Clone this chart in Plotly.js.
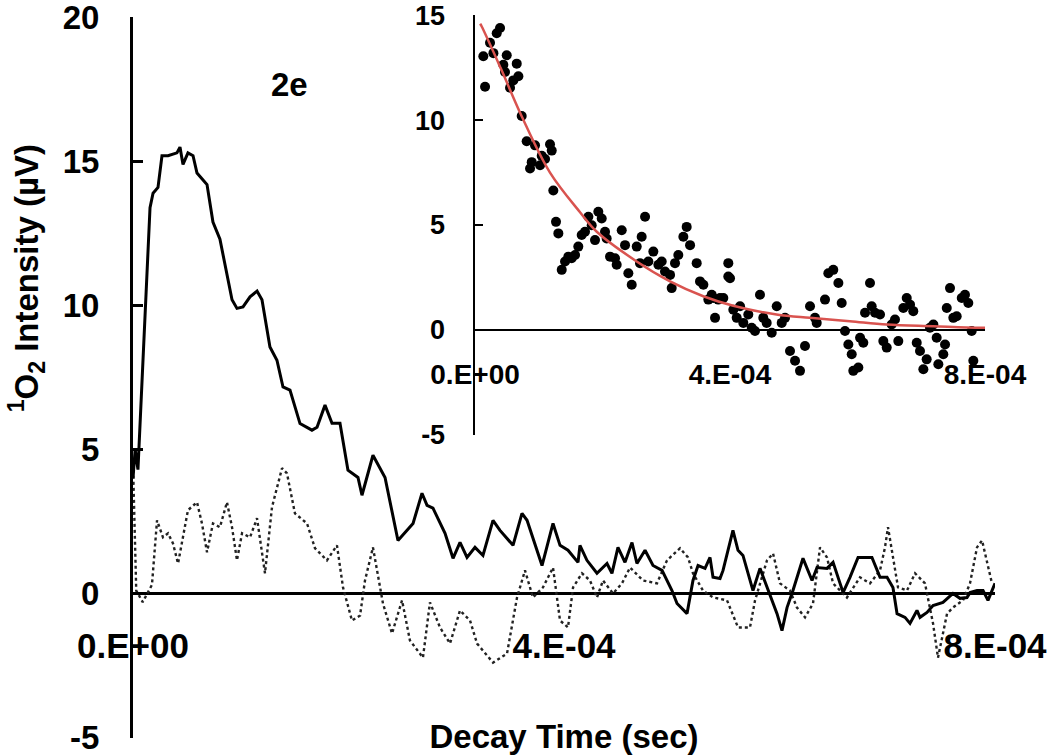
<!DOCTYPE html>
<html>
<head>
<meta charset="utf-8">
<script src="https://cdn.plot.ly/plotly-3.0.1.min.js"></script>
<style>html,body{margin:0;padding:0;background:#fff;}#chart{width:1050px;height:755px;}</style>
</head>
<body>
<div id="chart"></div>
<script>
// ---- data (time in microseconds, intensity in microvolts) ----
const solidPoints = [[0,4.0],[2,5.0],[4.6,4.3],[15.8,13.4],[18.6,13.9],[23.2,14.1],[26.9,15.2],[32.5,15.2],[40.8,15.3],[43.6,15.5],[46.4,14.9],[51.0,15.3],[55.7,15.2],[59.4,14.6],[64.0,14.4],[68.7,14.2],[74.2,12.9],[80.7,12.3],[91.9,10.2],[96.5,9.9],[102.1,9.95],[108.6,10.3],[115.1,10.5],[119.7,10.2],[127.1,8.56],[133.6,8.1],[139.2,7.17],[145.7,7.06],[155.0,5.9],[166.1,5.67],[170.8,5.77],[178.2,6.54],[184.7,5.91],[192.1,5.91],[199.5,4.28],[208.8,4.03],[212.5,3.41],[222.7,4.8],[233.9,4.03],[245.9,1.84],[259.9,2.43],[268.2,3.48],[272.9,3.06],[278.4,2.96],[289.6,2.09],[297.0,1.22],[303.5,1.77],[310.0,1.25],[317.4,1.6],[324.8,1.32],[334.1,2.54],[340.6,2.19],[352.7,1.67],[361.0,2.78],[365.7,2.54],[379.6,0.97],[389.8,2.43],[396.3,1.67],[403.7,1.5],[413.0,1.08],[414.8,1.67],[421.3,1.15],[430.6,0.7],[439.9,1.04],[444.5,0.7],[450.1,1.6],[456.6,1.08],[463.1,1.77],[467.7,1.04],[475.2,1.5],[482.6,0.97],[491.0,0.8],[500.2,0.1],[504.9,-0.35],[514.2,-0.7],[519.7,0.45],[524.4,0.97],[530.9,0.87],[535.5,1.25],[538.3,0.56],[544.8,0.52],[547.6,0.8],[556.8,2.19],[561.5,1.5],[566.1,1.32],[575.4,0.1],[581.9,0.87],[588.4,0.21],[597.7,-0.7],[602.3,-1.29],[607.0,-0.49],[612.5,0.1],[621.8,1.22],[630.2,0.45],[634.8,0.9],[644.1,0.87],[649.7,1.08],[656.2,0.35],[659.0,0.03],[665.4,0.56],[672.9,1.25],[685.8,1.25],[693.3,0.56],[699.8,0.56],[705.3,0.21],[709.1,-0.7],[716.5,-0.83],[721.1,-1.04],[727.6,-0.59],[730.4,-0.83],[736.9,-0.66],[742.5,-0.42],[751.7,-0.31],[761.0,0],[767.5,-0.17],[774.0,-0.14],[776.8,0.03],[783.3,0.1],[788.9,0.1],[793.5,-0.24],[797.2,0.1],[800.0,0.35]];

const dottedPoints = [[0,4.5],[3,0.1],[9,-0.3],[17.6,0.3],[22.3,2.54],[27.8,1.95],[32.5,2.09],[37.1,1.74],[41.8,1.04],[46.4,1.95],[51,2.89],[59.4,3.17],[64,2.43],[68.7,1.43],[74.2,2.43],[80.7,2.3],[87.2,3.17],[91.9,2.3],[96.5,1.15],[101.2,2.09],[108.6,1.95],[115.1,2.61],[119.7,1.5],[122.5,0.7],[129,3.0],[138.3,4.35],[142.9,4.17],[150.3,2.78],[161.5,2.43],[168.9,1.57],[180,1.15],[189.3,1.67],[194.9,0.21],[203.2,-0.94],[210.7,-0.77],[215.3,0.45],[222.7,1.6],[229.2,0.21],[232,-0.35],[240.4,-1.39],[249.7,-0.24],[257,-1.63],[269.1,-2.23],[275.6,-0.31],[284.9,-1.18],[294.2,-1.74],[303.5,-0.59],[312.8,-0.94],[319.3,-1.74],[334.1,-2.4],[347.1,-2.09],[356.4,-0.14],[363.8,0.8],[371.2,-0.14],[380.5,0.21],[389.8,0.9],[396.3,-0.94],[403.7,-1.18],[408.4,0.21],[416.7,0.7],[424.1,0.45],[430.6,-0.14],[436.2,0.45],[445.5,0],[453.8,0.35],[461.3,0.9],[473.3,0.45],[486.3,0.35],[495.6,1.15],[507.7,1.57],[515.1,1.25],[519.7,0.7],[529,0.1],[538.3,-0.14],[551.3,-0.24],[561.5,-1.18],[572.6,-1.18],[577.3,-0.24],[588.4,1.15],[594,1.39],[600.5,0.35],[609.7,0.1],[616.2,-0.49],[623.7,-0.83],[631.1,-0.35],[637.6,1.6],[644.1,1.25],[649.7,0.35],[662.6,-0.14],[674.7,0.56],[684,0.35],[693.3,0.8],[697.9,1.6],[700.7,2.3],[705.3,1.25],[710,0.21],[718.3,0.1],[725.8,0.7],[735,0.35],[742.5,-1.04],[747.1,-2.23],[755.5,-0.7],[761,-0.49],[770.3,-0.24],[776.8,0.35],[783.3,1.6],[788,1.84],[792.6,1.04],[797.2,0.35]];

const insetDots = [[13,13.05],[15.7,11.6],[23.5,13.7],[28.8,13.2],[34,14.15],[39.2,14.4],[44.4,12.65],[49.7,13.1],[47,12.3],[54.9,11.55],[60,11.9],[65.4,12.7],[68,12.1],[73.2,10.2],[81,9.0],[86.3,7.7],[88.9,8.0],[94.1,8.8],[102,7.85],[104.6,8.3],[109.8,8.15],[117.6,8.85],[120.3,8.55],[122.8,6.65],[127,5.15],[130.7,4.6],[136,2.86],[141.2,3.26],[146.4,3.49],[151.6,3.41],[156.9,3.57],[162,3.97],[167.3,4.52],[172.5,4.68],[177.8,5.39],[183,4.99],[188.2,4.28],[193.4,5.63],[198.7,5.31],[203.9,4.68],[206.5,4.36],[211.8,3.49],[219.6,3.41],[222.2,3.1],[230.1,4.75],[235.3,4.04],[240.5,2.7],[245.8,2.15],[253.6,3.97],[258.8,3.18],[261.4,4.44],[266.7,5.39],[271.9,3.26],[279.7,3.73],[287.6,3.1],[292.8,3.26],[298,2.78],[305.9,2.62],[308.5,1.99],[313.7,3.18],[318.9,3.57],[326.8,4.44],[332,4.91],[337.3,4.04],[347.7,3.18],[352.9,2.31],[358.2,2.15],[366,1.44],[371.3,1.67],[376.5,0.57],[381.6,1.44],[389.5,1.52],[397.3,3.18],[397.3,2.54],[405.2,0.96],[373.8,1.52],[384.3,1.52],[400,2.46],[410.5,0.57],[415.7,1.12],[420.9,0.33],[428.7,0.73],[434,0.1],[439.2,-0.06],[447,1.67],[452.2,0.57],[457.5,0.33],[465.4,-0.14],[473.3,1.12],[481.1,0.33],[486.3,0.57],[494.1,-1.01],[502,-1.48],[509.8,-1.96],[517.6,-0.77],[525.5,1.12],[533.3,0.57],[536,0.33],[549,1.44],[554.2,2.7],[562,2.86],[570,2.23],[575.2,1.28],[580.4,-0.06],[585.6,-0.7],[590.9,-1.17],[593.4,-1.96],[601.3,-1.8],[604,-0.38],[609.1,-0.62],[611.8,0.81],[619.6,2.23],[622.2,1.12],[627.5,0.81],[635.3,0.73],[640.5,-0.54],[645.8,-0.85],[653.6,0.25],[658.8,0.49],[664,-0.54],[671.9,1.04],[677.2,1.52],[682.4,1.2],[687.5,0.89],[692.9,-0.62],[698,-1.01],[703.3,-1.88],[708.5,-1.41],[713.7,0.1],[719,0.25],[724.2,-0.38],[726.8,-1.64],[734.6,-1.17],[737.3,-0.7],[740,1.04],[745.1,1.99],[750.3,0.57],[755.6,0.65],[763.5,1.52],[768.6,1.67],[773.8,1.28],[779.1,-0.06],[781.7,-1.48]];

const fitPoints = [[8,14.6],[10.5,14.47],[40,12.5],[73,10.2],[117.6,7.5],[165,5.6],[191,4.68],[253.6,3.26],[305.9,2.31],[358,1.6],[405,1.15],[473,0.73],[525,0.57],[588,0.41],[646,0.25],[719,0.17],[787,0.1],[800,0.1]];

const mainYTicks = [-5, 0, 5, 10, 15, 20];
const mainYText = ['-5', '0', '5', '10', '15', '20'];
const insetYTicks = [-5, 0, 5, 10, 15];
const insetYText = ['-5', '0', '5', '10', '15'];
const xTickVals = [0, 4e-4, 8e-4];
const xTickText = ['0.E+00', '4.E-04', '8.E-04'];

const US = 1e-6;
const xs = a => a.map(p => p[0] * US);
const ys = a => a.map(p => p[1]);

const FONT = 'Liberation Sans, Arial, sans-serif';

const traces = [
  {x: xs(dottedPoints), y: ys(dottedPoints), xaxis: 'x', yaxis: 'y', mode: 'lines',
   line: {color: '#222', width: 2.4, dash: 'dot'}, hoverinfo: 'skip'},
  {x: xs(solidPoints), y: ys(solidPoints), xaxis: 'x', yaxis: 'y', mode: 'lines',
   line: {color: '#000', width: 3}, hoverinfo: 'skip'},
  {x: xs(insetDots), y: ys(insetDots), xaxis: 'x2', yaxis: 'y2', mode: 'markers',
   marker: {color: '#000', size: 10}, hoverinfo: 'skip'},
  {x: xs(fitPoints), y: ys(fitPoints), xaxis: 'x2', yaxis: 'y2', mode: 'lines',
   line: {color: '#d9534f', width: 2.5, shape: 'spline'}, hoverinfo: 'skip'}
];

const layout = {
  width: 1050, height: 755,
  margin: {l: 133, r: 55, t: 14, b: 17},
  paper_bgcolor: '#fff', plot_bgcolor: 'rgba(0,0,0,0)',
  showlegend: false,
  font: {family: FONT, color: '#000'},
  xaxis: {
    domain: [0, 1], range: [0, 8e-4], anchor: 'free', position: 0.160,
    showline: false, showgrid: false, zeroline: false, ticks: '',
    tickmode: 'array', tickvals: xTickVals, ticktext: xTickText,
    tickfont: {family: FONT, size: 35, weight: 'bold', color: '#000'},
    ticklabeloverflow: 'allow', automargin: false,
    title: {text: 'Decay Time (sec)', standoff: 60,
            font: {family: FONT, size: 33, weight: 'bold', color: '#000'}}
  },
  yaxis: {
    domain: [0, 0.9959], range: [-5.02, 20.02], anchor: 'x',
    showline: true, linewidth: 3, linecolor: '#000',
    ticks: 'inside', ticklen: 10, tickwidth: 3, tickcolor: '#000',
    tickmode: 'array', tickvals: mainYTicks, ticktext: mainYText, ticklabelstandoff: 24,
    tickfont: {family: FONT, size: 33, weight: 'bold', color: '#000'},
    ticklabeloverflow: 'allow',
    showgrid: false, zeroline: true, zerolinewidth: 3, zerolinecolor: '#000',
    automargin: false
  },
  xaxis2: {
    domain: [0.3968, 0.9884], range: [0, 8e-4], anchor: 'free', position: 0.529,
    showline: false, showgrid: false, zeroline: false, ticks: '',
    tickmode: 'array', tickvals: xTickVals, ticktext: xTickText,
    tickfont: {family: FONT, size: 28, weight: 'bold', color: '#000'},
    ticklabeloverflow: 'allow', automargin: false
  },
  yaxis2: {
    domain: [0.4185, 0.9986], range: [-5.02, 15.02], anchor: 'x2',
    showline: true, linewidth: 2.5, linecolor: '#000',
    ticks: 'inside', ticklen: 8, tickwidth: 2.5, tickcolor: '#000',
    tickmode: 'array', tickvals: insetYTicks, ticktext: insetYText, ticklabelstandoff: 22,
    tickfont: {family: FONT, size: 27, weight: 'bold', color: '#000'},
    ticklabeloverflow: 'allow',
    showgrid: false, zeroline: true, zerolinewidth: 2.5, zerolinecolor: '#000',
    automargin: false
  },
  annotations: [
    {text: '<b>2e</b>', xref: 'paper', yref: 'paper', x: 0.181, y: 0.902,
     showarrow: false, xanchor: 'center', yanchor: 'middle',
     font: {family: FONT, size: 33, color: '#000'}},
    {text: '<b><sup>1</sup>O<sub>2</sub> Intensity (µV)</b>', xref: 'paper', yref: 'paper',
     x: -0.124, y: 0.635, textangle: -90, showarrow: false,
     xanchor: 'center', yanchor: 'middle',
     font: {family: FONT, size: 33, color: '#000'}}
  ]
};

Plotly.newPlot('chart', traces, layout, {staticPlot: true, displayModeBar: false});
</script>
</body>
</html>
